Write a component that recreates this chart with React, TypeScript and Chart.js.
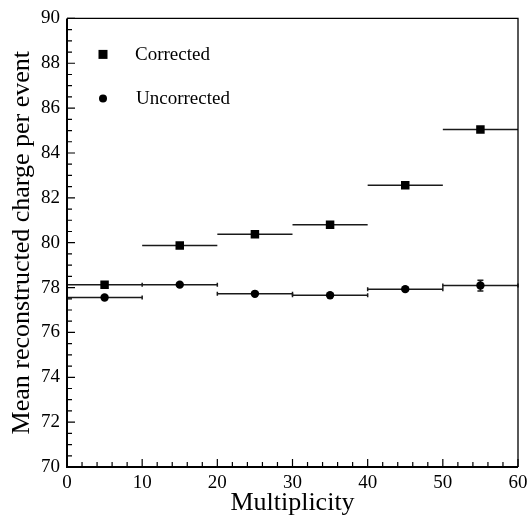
import React, { useEffect, useRef } from "react";
import { Chart, registerables } from "chart.js";

Chart.register(...registerables);

// ---- data ----
const multiplicity = [5, 15, 25, 35, 45, 55];
const binHalfWidth = [5, 5, 5, 5, 5, 5];
const corrected = [78.13, 79.87, 80.38, 80.8, 82.56, 85.05];
const correctedErr = [0.08, 0.08, 0.08, 0.08, 0.08, 0.1];
const uncorrected = [77.56, 78.13, 77.72, 77.66, 77.93, 78.09];
const uncorrectedErr = [0.06, 0.06, 0.06, 0.06, 0.08, 0.24];
const seriesLabels = ["Corrected", "Uncorrected"];
const xRange = [0, 60];
const yRange = [70, 90];
const xMajorStep = 10;
const xMinorStep = 2;
const yMajorStep = 2;
const yMinorStep = 0.5;

const FONT = "'Liberation Serif', 'Times New Roman', serif";

const errorBarPlugin = {
  id: "errorBars",
  beforeDatasetsDraw(chart: any) {
    const { ctx, scales } = chart;
    const x = scales.x;
    const y = scales.y;
    ctx.save();
    ctx.strokeStyle = "#1a1a1a";
    ctx.lineWidth = 1.5;
    chart.data.datasets.forEach((ds: any) => {
      ds.data.forEach((p: any) => {
        const px0 = x.getPixelForValue(p.x - p.xe);
        const px1 = x.getPixelForValue(p.x + p.xe);
        const py = y.getPixelForValue(p.y);
        const pyLo = y.getPixelForValue(p.y - p.ye);
        const pyHi = y.getPixelForValue(p.y + p.ye);
        const px = x.getPixelForValue(p.x);
        ctx.beginPath();
        ctx.moveTo(px0, py);
        ctx.lineTo(px1, py);
        ctx.moveTo(px, pyLo);
        ctx.lineTo(px, pyHi);
        ctx.moveTo(px - 3, pyLo);
        ctx.lineTo(px + 3, pyLo);
        ctx.moveTo(px - 3, pyHi);
        ctx.lineTo(px + 3, pyHi);
        if (ds.caps) {
          ctx.moveTo(px0, py - 2);
          ctx.lineTo(px0, py + 2);
          ctx.moveTo(px1, py - 2);
          ctx.lineTo(px1, py + 2);
        }
        ctx.stroke();
      });
    });
    ctx.restore();
  },
};

const frameLegendPlugin = {
  id: "frameLegend",
  afterDraw(chart: any) {
    const { ctx, chartArea, scales } = chart;
    const { left, right, top, bottom } = chartArea;
    const x = scales.x;
    const y = scales.y;
    ctx.save();
    ctx.strokeStyle = "#000";
    // frame
    ctx.lineWidth = 1.3;
    ctx.beginPath();
    ctx.moveTo(left, top);
    ctx.lineTo(right, top);
    ctx.lineTo(right, bottom);
    ctx.stroke();
    ctx.lineWidth = 2;
    ctx.beginPath();
    ctx.moveTo(left, top);
    ctx.lineTo(left, bottom);
    ctx.lineTo(right, bottom);
    ctx.stroke();
    // inward ticks
    ctx.lineWidth = 1.2;
    ctx.beginPath();
    const nY = Math.round((yRange[1] - yRange[0]) / yMinorStep);
    for (let i = 0; i <= nY; i++) {
      const v = yRange[0] + i * yMinorStep;
      const major = Math.abs(v / yMajorStep - Math.round(v / yMajorStep)) < 1e-6;
      const py = y.getPixelForValue(v);
      ctx.moveTo(left, py);
      ctx.lineTo(left + (major ? 8 : 5), py);
    }
    const nX = Math.round((xRange[1] - xRange[0]) / xMinorStep);
    for (let i = 0; i <= nX; i++) {
      const v = xRange[0] + i * xMinorStep;
      const major = Math.abs(v / xMajorStep - Math.round(v / xMajorStep)) < 1e-6;
      const px = x.getPixelForValue(v);
      ctx.moveTo(px, bottom);
      ctx.lineTo(px, bottom - (major ? 8 : 5));
    }
    ctx.stroke();
    // legend
    const lx = left + 36;
    const ly1 = top + 36;
    const ly2 = top + 80;
    ctx.fillStyle = "#000";
    ctx.fillRect(lx - 4.5, ly1 - 4.5, 9, 9);
    ctx.beginPath();
    ctx.arc(lx, ly2, 4, 0, Math.PI * 2);
    ctx.fill();
    ctx.font = `19px ${FONT}`;
    ctx.textBaseline = "middle";
    ctx.textAlign = "left";
    ctx.fillText(seriesLabels[0], lx + 32, ly1 + 1);
    ctx.fillText(seriesLabels[1], lx + 33, ly2 + 1);
    ctx.restore();
  },
};

export default function App() {
  const ref = useRef<HTMLCanvasElement | null>(null);
  useEffect(() => {
    if (!ref.current) return;
    const mk = (vals: number[], errs: number[]) =>
      multiplicity.map((m, i) => ({ x: m, y: vals[i], xe: binHalfWidth[i], ye: errs[i] }));
    const chart = new Chart(ref.current, {
      type: "scatter",
      data: {
        datasets: [
          {
            label: seriesLabels[0],
            data: mk(corrected, correctedErr),
            pointStyle: "rect",
            pointRadius: 6,
            backgroundColor: "#000",
            borderColor: "#000",
            borderWidth: 0,
          } as any,
          {
            label: seriesLabels[1],
            data: mk(uncorrected, uncorrectedErr),
            pointStyle: "circle",
            pointRadius: 4.2,
            backgroundColor: "#000",
            borderColor: "#000",
            borderWidth: 0,
            caps: true,
          } as any,
        ],
      },
      options: {
        animation: false,
        responsive: true,
        maintainAspectRatio: false,
        layout: { padding: { top: 17, right: 11, left: 0, bottom: 0 } },
        plugins: { legend: { display: false }, tooltip: { enabled: false } },
        scales: {
          x: {
            type: "linear",
            min: xRange[0],
            max: xRange[1],
            grid: { display: false, drawTicks: false },
            border: { display: false },
            ticks: {
              stepSize: xMajorStep,
              color: "#000",
              padding: 5,
              font: { family: FONT, size: 19 },
            },
            title: {
              display: true,
              text: "Multiplicity",
              color: "#000",
              font: { family: FONT, size: 26 },
              padding: { top: 0, bottom: 3 },
            },
            afterFit: (s: any) => {
              s.height = 55;
              s.paddingRight = 0;
              s.paddingLeft = 0;
            },
          },
          y: {
            type: "linear",
            min: yRange[0],
            max: yRange[1],
            grid: { display: false, drawTicks: false },
            border: { display: false },
            ticks: {
              stepSize: yMajorStep,
              color: "#000",
              padding: 7,
              font: { family: FONT, size: 19 },
            },
            title: {
              display: true,
              text: "Mean reconstructed charge per event",
              color: "#000",
              font: { family: FONT, size: 26 },
              padding: { top: 7, bottom: 0 },
            },
            afterFit: (s: any) => {
              s.width = 67;
            },
          },
        },
      } as any,
      plugins: [errorBarPlugin, frameLegendPlugin],
    });
    return () => chart.destroy();
  }, []);
  return (
    <div style={{ position: "absolute", left: 0, top: 0, width: 529, height: 522, background: "#fff" }}>
      <canvas ref={ref} />
    </div>
  );
}
